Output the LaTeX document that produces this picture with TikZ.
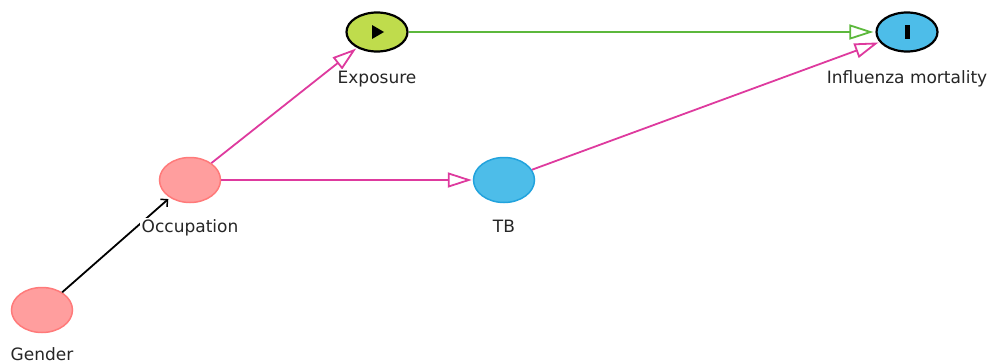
\documentclass[tikz,border=0pt]{standalone}
\usepackage{fontspec}
\setmainfont{DejaVu Sans}
\usetikzlibrary{shapes.geometric,arrows.meta}
\definecolor{pinkfill}{HTML}{FF9E9E}
\definecolor{pinkline}{HTML}{FF7A7A}
\definecolor{bluefill}{HTML}{4DBDE9}
\definecolor{blueline}{HTML}{22A3DD}
\definecolor{greenfill}{HTML}{BFDC4C}
\definecolor{magline}{HTML}{DE3A9E}
\definecolor{greenline}{HTML}{5CB83C}
\tikzset{
  var/.style={ellipse, inner sep=0pt, minimum width=61pt, minimum height=45pt},
  adjusted/.style={var, fill=pinkfill, draw=pinkline, line width=1.5pt},
  mediator/.style={var, fill=bluefill, draw=blueline, line width=1.5pt},
  exposure/.style={var, minimum height=39pt, fill=greenfill, draw=black, line width=2.2pt},
  outcome/.style={var, minimum height=39pt, fill=bluefill, draw=black, line width=2.2pt},
  lbl/.style={fill=white, inner sep=1.5pt, anchor=base, font=\fontsize{17}{20}\selectfont, text=black!85},
  causal/.style={draw=greenline, line width=1.8pt, -{Triangle[open, length=24pt, width=15pt, line width=1.8pt]}, shorten >=2pt},
  biasing/.style={draw=magline, line width=1.8pt, -{Triangle[open, length=24pt, width=15pt, line width=1.8pt]}, shorten >=1pt},
  plain/.style={draw=black, line width=1.8pt, -{Straight Barb[length=5pt, width=10pt, line width=1.5pt]}, shorten >=2pt}
}
\begin{document}
\begin{tikzpicture}[x=1pt, y=-1pt]
  \useasboundingbox (0,0) rectangle (989,364);

  % variables
  \node[exposure] (expo) at (377,32) {};
  \node[outcome]  (flu)  at (907,32) {};
  \node[adjusted] (occ)  at (190,180) {};
  \node[mediator] (tb)   at (504,180) {};
  \node[adjusted] (gen)  at (42,310) {};

  % exposure and outcome markers
  \fill[black] ([xshift=-5pt, yshift=7pt]expo.center) -- ([xshift=7pt]expo.center)
               -- ([xshift=-5pt, yshift=-7pt]expo.center) -- cycle;
  \fill[black] ([xshift=-2.5pt, yshift=-7pt]flu.center) rectangle ([xshift=2.5pt, yshift=7pt]flu.center);

  % arrows
  \draw[causal]  (expo) -- (flu);
  \draw[biasing] (occ) -- (expo);
  \draw[biasing] (occ) -- (tb);
  \draw[biasing] (tb) -- (flu);
  \draw[plain]   (gen) -- (occ);

  % labels
  \node[lbl] (expolbl) at (377,83)  {Exposure};
  \node[lbl] (flulbl)  at (907,83)  {Influenza mortality};
  \node[lbl] (occlbl)  at (190,232) {Occupation};
  \node[lbl] (tblbl)   at (504,232) {TB};
  \node[lbl, inner sep=0.5pt] (genlbl)  at (42,360)  {Gender};
\end{tikzpicture}
\end{document}
